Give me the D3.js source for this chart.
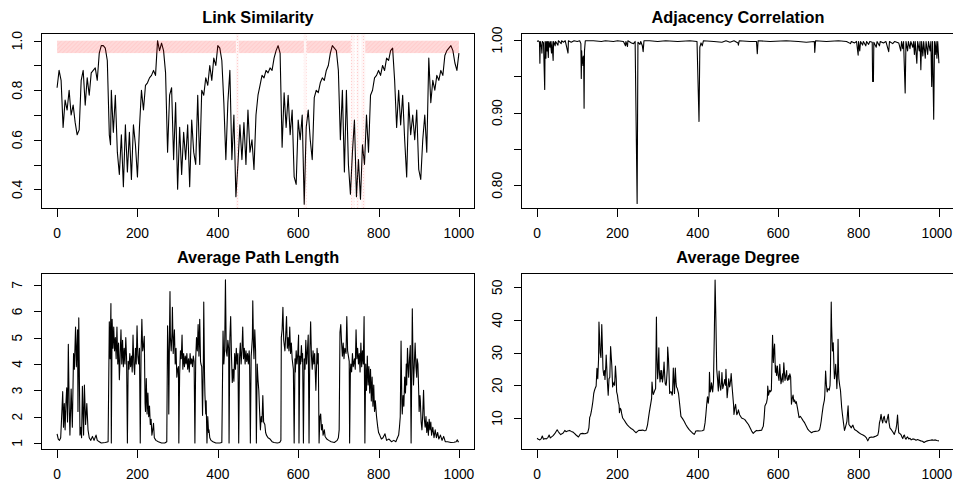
<!DOCTYPE html>
<html>
<head>
<meta charset="utf-8">
<script src="https://cdn.jsdelivr.net/npm/d3@7"></script>
<style>
  html, body { margin: 0; padding: 0; background: #fff; }
  svg { display: block; font-family: "Liberation Sans", Arial, Helvetica, sans-serif; }
</style>
</head>
<body>
<svg id="chart" width="953" height="481"></svg>
<script>
// ---------------- DATA ----------------
const panelTitles = ["Link Similarity", "Adjacency Correlation", "Average Path Length", "Average Degree"];
const xTicks = [0, 200, 400, 600, 800, 1000];

const linkTicks = [0.4, 0.5, 0.6, 0.7, 0.8, 0.9, 1.0];
const linkLabels = [0.4, 0.6, 0.8, 1.0];
const adjTicks = [0.80, 0.85, 0.90, 0.95, 1.00];
const adjLabels = [0.80, 0.90, 1.00];
const pathTicks = [1, 2, 3, 4, 5, 6, 7];
const degTicks = [10, 20, 30, 40, 50];

// high-similarity band (y range) and its x segments; highlighted change columns
const bandRange = [0.95, 1.0];
const bandSegments = [[0, 445], [452, 614], [621, 731], [767, 1000]];
const changeColumns = [[445, 452], [614, 621], [731, 740], [745, 752], [757, 767]];

const linkSimilarity = [
[0,0.81],[5,0.88],[10,0.84],[15,0.65],[20,0.76],[25,0.72],[30,0.80],[35,0.70],[40,0.74],[45,0.67],
[50,0.62],[55,0.64],[60,0.84],[65,0.88],[70,0.74],[75,0.85],[80,0.78],[85,0.87],[90,0.88],[95,0.89],
[100,0.84],[105,0.95],[110,0.98],[115,0.98],[120,0.97],[125,0.92],[130,0.62],[133,0.58],[135,0.80],[140,0.63],
[145,0.78],[150,0.55],[155,0.46],[160,0.62],[165,0.41],[170,0.66],[175,0.47],[180,0.63],[185,0.44],[190,0.66],
[195,0.58],[200,0.45],[205,0.65],[210,0.80],[215,0.72],[220,0.82],[225,0.83],[230,0.85],[235,0.86],[240,0.88],
[245,0.86],[250,1.00],[255,0.96],[260,0.99],[265,0.96],[270,0.87],[275,0.55],[280,0.78],[285,0.81],[290,0.52],
[295,0.75],[300,0.40],[305,0.65],[310,0.46],[315,0.63],[320,0.52],[325,0.66],[330,0.41],[335,0.68],[340,0.55],
[345,0.50],[350,0.78],[355,0.50],[360,0.80],[365,0.78],[370,0.85],[375,0.82],[380,0.90],[385,0.84],[390,0.93],
[395,0.90],[400,0.98],[405,0.97],[410,0.92],[415,0.75],[420,0.52],[425,0.75],[430,0.88],[435,0.52],[440,0.70],
[445,0.37],[450,0.50],[455,0.66],[460,0.52],[465,0.67],[470,0.50],[475,0.72],[480,0.55],[485,0.60],[490,0.48],
[495,0.70],[500,0.78],[505,0.82],[510,0.86],[515,0.85],[520,0.88],[525,0.87],[530,0.89],[535,0.88],[540,0.93],
[545,0.96],[550,0.98],[555,0.95],[560,0.57],[565,0.79],[570,0.65],[575,0.78],[580,0.62],[585,0.72],[590,0.45],
[595,0.42],[600,0.68],[605,0.60],[610,0.70],[615,0.34],[620,0.65],[625,0.72],[630,0.60],[635,0.52],[640,0.77],
[645,0.80],[650,0.79],[655,0.83],[660,0.85],[665,0.84],[670,0.88],[675,0.90],[680,0.95],[685,0.98],[690,0.97],
[695,0.96],[700,0.88],[705,0.60],[710,0.80],[715,0.47],[720,0.80],[725,0.50],[730,0.38],[735,0.55],[740,0.68],
[745,0.37],[750,0.52],[755,0.36],[760,0.58],[765,0.50],[770,0.70],[775,0.55],[780,0.78],[785,0.80],[790,0.85],
[795,0.86],[800,0.88],[805,0.86],[810,0.90],[815,0.88],[820,0.93],[825,0.92],[830,0.96],[835,0.97],[840,0.84],
[845,0.65],[850,0.80],[855,0.66],[860,0.78],[865,0.60],[870,0.45],[875,0.75],[880,0.62],[885,0.70],[890,0.60],
[895,0.72],[900,0.48],[905,0.44],[910,0.60],[915,0.70],[920,0.55],[925,0.93],[930,0.75],[935,0.84],[940,0.80],
[945,0.86],[950,0.84],[955,0.88],[960,0.86],[965,0.94],[970,0.96],[975,0.97],[980,0.98],[985,0.96],[990,0.91],
[995,0.88],[1000,0.95]
];

const adjacencyCorrelation = [
[0,0.998],[3,0.999],[6,0.997],[7,0.968],[8,0.998],[11,0.990],[12,0.982],[13,0.998],[16,0.996],[19,0.932],
[20,0.998],[22,0.975],[23,0.998],[25,0.985],[26,0.998],[28,0.976],[29,0.998],[32,0.990],[33,0.998],[36,0.982],
[37,0.998],[40,0.972],[41,0.998],[45,0.992],[46,0.998],[52,0.993],[53,0.999],[60,0.995],[61,0.999],[66,0.997],
[70,0.999],[77,0.982],[78,0.999],[85,0.997],[92,0.999],[100,0.998],[106,0.999],[109,0.995],[110,0.947],[111,0.985],
[112,0.968],[113,0.975],[114,0.965],[115,0.978],[116,0.970],[117,0.906],[118,0.985],[120,0.999],[140,0.999],[160,0.998],
[170,0.999],[190,0.998],[200,0.999],[215,0.998],[220,0.992],[221,0.998],[225,0.991],[226,0.999],[235,0.996],[240,0.995],
[244,0.998],[249,0.775],[251,0.997],[256,0.994],[258,0.998],[262,0.992],[264,0.984],[266,0.999],[280,0.999],[300,0.998],
[320,0.999],[350,0.998],[380,0.999],[398,0.998],[403,0.888],[405,0.990],[408,0.996],[411,0.992],[414,0.999],[440,0.998],
[460,0.997],[470,0.999],[480,0.997],[490,0.999],[500,0.996],[501,0.993],[503,0.999],[530,0.998],[546,0.998],[548,0.981],
[550,0.999],[580,0.998],[620,0.999],[650,0.998],[670,0.997],[690,0.998],[691,0.983],[693,0.999],[720,0.998],[750,0.999],
[770,0.998],[780,0.995],[782,0.998],[790,0.996],[795,0.998],[799,0.979],[800,0.998],[803,0.985],[805,0.998],[810,0.993],
[812,0.998],[818,0.992],[820,0.998],[825,0.994],[828,0.998],[834,0.997],[835,0.943],[837,0.943],[838,0.997],[844,0.990],
[846,0.998],[852,0.992],[854,0.998],[862,0.996],[868,0.998],[875,0.984],[877,0.998],[885,0.995],[890,0.998],[900,0.996],
[905,0.985],[907,0.998],[910,0.988],[912,0.998],[916,0.927],[918,0.998],[922,0.985],[924,0.998],[928,0.988],[930,0.998],
[935,0.990],[937,0.998],[939,0.980],[941,0.998],[945,0.968],[947,0.998],[951,0.985],[953,0.998],[955,0.959],[957,0.998],
[960,0.978],[962,0.998],[966,0.975],[968,0.998],[972,0.980],[974,0.998],[978,0.985],[980,0.998],[982,0.936],[984,0.998],
[987,0.891],[989,0.998],[991,0.980],[993,0.998],[995,0.975],[997,0.998],[1000,0.968]
];

const avgPathLength = [
[0,1.35],[3,1.15],[6,1.1],[9,1.2],[12,2.2],[14,2.95],[16,1.6],[18,2.5],[20,1.5],[22,2.5],[24,3.1],[26,1.8],[28,4.75],
[30,2.5],[32,1.3],[35,3.05],[38,1.6],[41,4.4],[43,3.8],[46,5.4],[48,3.9],[51,5.3],[52,2.2],[54,5.75],[57,1.3],[59,1.6],
[61,1.2],[63,3.15],[66,1.3],[68,3.2],[71,1.7],[74,2.5],[77,1.5],[80,1.2],[84,1.1],[88,1.25],[92,1.1],[97,1.3],[100,1.1],
[105,1.05],[110,1.0],[120,1.02],[127,1.05],[130,5.6],[132,4.2],[134,6.3],[135,1.0],[137,5.7],[139,4.6],[141,5.4],[143,4.5],
[145,5.0],[147,4.2],[149,5.4],[151,4.0],[153,4.8],[155,3.4],[157,4.3],[159,5.3],[161,4.0],[163,4.9],[165,3.9],[167,4.6],
[169,4.0],[171,5.0],[173,4.2],[175,1.0],[177,4.1],[179,3.8],[181,4.4],[183,3.9],[185,4.3],[187,3.7],[189,5.1],[191,4.0],
[193,3.6],[195,4.6],[197,4.0],[199,5.45],[201,4.3],[203,4.0],[205,4.6],[207,1.0],[209,4.4],[211,5.7],[213,4.5],[215,4.7],
[217,5.05],[219,2.5],[220,2.2],[222,3.45],[224,2.1],[226,2.9],[228,2.0],[230,2.4],[232,1.7],[234,1.9],[236,1.3],[238,1.5],
[240,1.75],[242,1.2],[246,1.1],[252,1.05],[260,1.0],[268,1.0],[273,1.05],[275,5.45],[277,4.3],[278,2.1],[280,5.5],[281,6.75],
[282,5.0],[284,4.5],[286,5.2],[287,6.15],[289,4.4],[291,5.0],[292,5.3],[294,4.0],[296,4.6],[298,3.5],[300,3.8],[302,3.9],
[303,1.0],[305,3.6],[307,4.5],[309,4.2],[311,5.1],[313,3.8],[315,4.4],[317,3.9],[319,4.3],[321,4.0],[323,4.4],[325,3.8],
[327,4.2],[329,3.7],[331,4.4],[333,4.0],[335,4.2],[337,3.9],[339,4.3],[341,4.1],[343,1.0],[345,4.2],[347,5.0],[349,4.5],
[351,5.5],[353,4.3],[355,5.7],[357,4.1],[358,4.0],[360,3.9],[362,2.05],[364,4.0],[365,6.35],[367,3.5],[368,2.8],[370,2.1],
[371,2.6],[373,1.0],[375,2.0],[377,1.4],[378,1.5],[380,1.2],[383,1.1],[388,1.05],[395,1.0],[405,1.0],[410,1.02],[413,5.25],
[415,4.0],[417,4.5],[419,7.2],[421,4.5],[423,4.3],[425,4.9],[427,4.6],[428,1.0],[430,5.0],[432,5.8],[434,4.3],[436,3.3],
[438,3.8],[440,3.35],[442,4.4],[444,3.8],[446,4.6],[448,4.0],[450,4.4],[452,1.0],[454,4.2],[456,4.8],[458,4.0],[460,4.5],
[462,5.4],[464,4.2],[466,4.6],[468,4.0],[470,4.5],[472,4.1],[474,4.4],[476,4.0],[478,4.5],[479,4.2],[481,1.0],[483,4.3],
[484,4.5],[486,5.0],[487,6.4],[489,4.6],[490,4.2],[492,5.3],[494,4.5],[496,1.0],[498,4.0],[500,3.4],[502,3.0],[504,2.2],
[506,1.5],[508,2.0],[510,1.8],[512,2.8],[514,1.8],[517,1.7],[519,1.4],[521,1.3],[525,1.2],[530,1.15],[535,1.05],[540,1.02],
[548,1.0],[554,1.02],[557,1.1],[558,5.0],[560,5.3],[562,6.15],[564,4.9],[567,4.5],[569,5.1],[571,5.8],[573,4.6],[575,5.0],
[577,4.5],[579,5.4],[581,4.4],[583,4.8],[585,4.2],[588,3.8],[590,1.0],[592,4.2],[593,3.7],[595,4.5],[597,4.0],[599,4.4],
[601,5.1],[602,1.0],[604,4.3],[606,4.0],[608,4.7],[610,4.1],[611,4.4],[613,1.0],[615,4.2],[617,3.8],[619,4.9],[621,4.0],
[623,4.5],[625,5.1],[627,1.0],[629,4.5],[631,5.6],[633,4.3],[635,3.8],[637,4.5],[639,4.0],[641,4.4],[644,3.0],[647,4.6],
[649,4.0],[650,4.4],[652,1.0],[654,2.0],[656,2.1],[658,1.5],[660,1.7],[662,1.3],[665,1.5],[667,1.25],[671,1.15],[676,1.1],
[682,1.05],[690,1.02],[697,1.1],[700,1.2],[702,1.5],[704,5.2],[706,5.5],[708,4.8],[710,4.3],[712,4.8],[714,4.2],[716,4.6],
[719,4.4],[721,5.8],[723,4.5],[725,4.3],[727,4.1],[728,1.0],[730,3.8],[731,4.0],[733,3.7],[735,4.4],[737,3.9],[740,4.2],
[742,3.8],[744,5.3],[746,4.2],[748,4.6],[750,4.0],[752,4.4],[754,3.7],[756,4.8],[758,3.9],[760,4.5],[762,4.0],[764,5.8],
[766,1.0],[768,4.0],[770,3.0],[772,4.3],[774,3.2],[776,3.9],[778,2.9],[780,3.8],[782,2.6],[784,3.5],[786,2.4],[788,3.2],
[790,2.2],[792,2.6],[795,2.0],[798,1.6],[800,1.4],[803,1.3],[807,1.15],[811,1.2],[816,1.35],[820,1.1],[826,1.15],[832,1.05],
[838,1.1],[843,1.05],[847,1.2],[850,1.3],[852,1.6],[854,2.0],[856,4.87],[858,2.5],[859,2.1],[861,2.8],[863,2.4],[865,3.5],
[867,2.9],[869,4.0],[870,3.2],[872,4.6],[874,3.8],[875,3.5],[877,4.2],[879,4.7],[881,1.0],[884,6.1],[886,3.8],[887,3.2],
[889,4.0],[891,4.8],[893,3.9],[895,3.5],[896,4.2],[898,4.0],[900,2.9],[901,2.2],[903,2.8],[904,2.6],[906,1.8],[908,1.5],
[910,2.1],[912,3.0],[914,1.9],[916,1.6],[918,2.0],[920,1.4],[922,1.8],[924,1.3],[926,1.9],[928,1.5],[930,1.8],[932,1.3],
[935,1.6],[938,1.2],[941,1.5],[944,1.2],[947,1.4],[950,1.15],[954,1.3],[958,1.1],[962,1.25],[966,1.05],[972,1.05],[980,1.02],
[988,1.03],[993,1.05],[996,1.12],[998,1.05],[1000,1.05]
];

const avgDegree = [
[0,3.8],[3,3.5],[7,3.3],[10,3.6],[13,4.5],[16,3.5],[20,3.7],[23,3.6],[27,4.0],[30,4.8],[33,3.9],[37,4.3],[40,4.6],[44,5.2],
[47,5.8],[50,6.4],[53,5.8],[56,5.3],[59,4.9],[62,5.2],[65,5.4],[69,6.2],[72,5.8],[76,6.0],[81,6.2],[85,5.9],[89,5.7],[93,5.3],
[97,4.8],[100,4.5],[103,4.2],[106,4.8],[108,5.2],[113,5.3],[118,5.2],[122,5.3],[126,5.5],[129,7],[131,10.2],[133,10.8],[135,12],
[137,13.5],[139,15.2],[141,17.5],[143,18.5],[145,19.2],[147,19.8],[149,25.2],[151,22],[153,28],[154,39.4],[156,33],[157,30],
[159,28.5],[161,38.6],[163,30],[164,25],[166,23],[168,24.5],[169,21.8],[171,26],[172,29.3],[174,24],[175,21],[177,17],[179,22],
[181,22.5],[183,31.9],[185,28],[186,26],[188,19.5],[190,20.5],[192,21],[193,20],[195,25.9],[197,22],[198,18],[200,17],[202,15],
[204,14],[205,11.6],[207,13],[209,12.5],[211,11],[213,10],[217,9.3],[221,8.5],[225,7.8],[230,7.2],[234,6.8],[238,6.5],[242,6.0],
[246,5.5],[250,5.9],[253,6.2],[258,6.2],[263,6.3],[267,6.1],[271,6.2],[273,7],[275,8],[277,9.8],[279,11.5],[281,13],[283,14.5],
[285,16],[286,21],[288,18],[289,17.2],[291,17.8],[293,18.5],[295,19],[297,40.9],[298,30],[300,22],[301,24],[303,31.5],[304,25],
[306,21],[308,24.5],[309,22],[310,24.5],[312,21],[314,23],[316,27.1],[318,22],[319,20.5],[321,20],[322,21],[324,25],[325,31.7],
[327,28],[328,25],[330,17.5],[332,18],[334,18],[336,17],[337,17.5],[339,25.3],[341,20],[342,17.5],[344,25.3],[346,20.5],[347,19.5],
[349,19],[352,17.5],[355,14],[358,10.5],[362,9.8],[366,9],[370,8],[374,7.2],[378,6.5],[382,6.0],[386,5.5],[391,5.0],[393,5.4],
[395,6.0],[400,6.1],[405,6.0],[411,6.1],[415,6.3],[418,8.5],[420,11],[422,14],[424,16.5],[425,15.5],[426,14.5],[428,17],[429,24],
[431,18],[433,19],[434,20.8],[436,19],[437,18],[439,21],[441,35],[443,52.2],[445,40],[447,25],[449,22],[451,18.3],[453,24.4],
[455,20],[457,18.5],[459,21],[460,23.9],[462,19],[464,20],[466,21],[467,21.8],[469,20],[470,24.9],[472,19],[473,16.2],[475,19],
[477,22],[479,19.5],[480,20],[482,22],[483,23.6],[485,20],[487,17],[489,14],[490,11.1],[492,13],[494,14.2],[496,12],[497,11],
[499,11.5],[501,12.5],[504,11],[509,10],[513,9.8],[517,9.5],[521,8.8],[526,8],[530,7],[534,6],[538,5.3],[542,5.8],[546,6.2],
[550,6.1],[555,6.2],[559,6.3],[561,7],[563,7.5],[565,10],[567,13.7],[569,14.2],[571,14.7],[573,16],[574,19.8],[576,17],[578,18],
[579,18.5],[581,18],[583,18.5],[584,24],[586,35.3],[588,27],[589,30],[591,32.6],[593,24],[594,26],[596,23],[598,25.9],[600,23],
[602,21.5],[604,26.4],[606,22],[607,20.5],[609,22],[611,23.5],[612,21],[614,26.9],[616,23],[617,21.5],[619,23],[621,24.5],[622,22],
[624,21.5],[626,23],[627,21.8],[629,23.5],[631,22.5],[633,14.2],[635,16],[637,17],[639,15],[641,15.5],[643,14.5],[645,15],[648,13],
[652,10.1],[655,10.5],[658,10],[662,9.2],[666,8.5],[670,7.5],[674,6.5],[678,6.0],[683,5.5],[687,5.8],[692,5.9],[699,6.0],[703,6.4],
[705,7.5],[707,9],[709,11],[712,13.7],[715,15.5],[716,17],[718,24.4],[720,20],[722,18],[724,19],[725,18.8],[727,18.5],[729,20],
[730,24],[732,45.5],[733,38],[735,30.5],[737,33],[739,25],[740,22],[742,24],[743,26.4],[745,22],[746,19],[748,25],[749,34.1],
[750,26],[751,22],[753,20],[755,18.5],[757,15],[758,13.2],[760,11],[761,10],[763,8],[765,6.2],[767,7],[769,8],[771,9],[774,13.7],
[776,8],[779,7.5],[782,7],[784,7.5],[786,7.8],[788,7],[790,6.5],[794,6.2],[798,5.8],[802,5.4],[807,5.0],[811,4.8],[815,4.5],
[819,4.0],[823,3.0],[827,4.0],[832,4.2],[836,4.1],[840,4.3],[844,4.5],[848,4.8],[850,6],[852,8.5],[854,9.5],[856,11.1],[858,9.5],
[860,8.5],[862,10],[864,10.5],[866,9],[869,8.5],[871,9.5],[874,11.1],[876,8.5],[878,7],[881,6.5],[885,5.8],[889,5],[891,5.8],
[893,6.5],[895,8],[897,10.9],[899,7],[900,5.5],[903,5.2],[906,4.8],[908,4.2],[910,3.7],[912,4.5],[914,4.8],[916,3.9],[918,3.5],
[920,4.0],[922,4.2],[925,3.6],[928,3.8],[931,3.3],[935,3.6],[939,3.5],[943,3.2],[947,3.4],[951,3.2],[955,3.0],[959,2.9],[963,2.5],
[967,2.8],[971,3.0],[975,3.1],[979,3.2],[983,3.3],[987,3.2],[991,3.3],[995,3.1],[1000,3.0]
];

// ---------------- LAYOUT ----------------
const W = 953;
const svg = d3.select("#chart");
const TICK_FS = 13.8, TITLE_FS = 16.3, TICK_LEN = 8;

const panels = [
  { title: panelTitles[0], data: linkSimilarity, box: [41, 475, 33.3, 209.3], yCal: [[0.4, 189.3], [1.0, 40.7]],
    yTicks: linkTicks, yLabels: linkLabels, fmt: d3.format(".1f"), band: true },
  { title: panelTitles[1], data: adjacencyCorrelation, box: [521, 955, 33.3, 209.3], yCal: [[0.80, 185.3], [1.00, 40]],
    yTicks: adjTicks, yLabels: adjLabels, fmt: d3.format(".2f") },
  { title: panelTitles[2], data: avgPathLength, box: [41, 475, 273.3, 449.6], yCal: [[1, 443], [7, 285]],
    yTicks: pathTicks, yLabels: pathTicks, fmt: d3.format("d") },
  { title: panelTitles[3], data: avgDegree, box: [521, 955, 273.3, 449.6], yCal: [[10, 418], [50, 287.3]],
    yTicks: degTicks, yLabels: degTicks, fmt: d3.format("d") }
];

const defs = svg.append("defs");
const pat = defs.append("pattern").attr("id", "hatch").attr("patternUnits", "userSpaceOnUse")
  .attr("width", 3).attr("height", 3).attr("patternTransform", "rotate(45)");
pat.append("rect").attr("width", 3).attr("height", 3).attr("fill", "rgba(255,0,0,0.15)");
pat.append("line").attr("x1", 0).attr("y1", 0).attr("x2", 0).attr("y2", 3)
  .attr("stroke", "rgba(255,0,0,0.09)").attr("stroke-width", 1.2);

const colPat = defs.append("pattern").attr("id", "dots").attr("patternUnits", "userSpaceOnUse")
  .attr("width", 3).attr("height", 3);
colPat.append("rect").attr("width", 3).attr("height", 3).attr("fill", "rgba(255,0,0,0.04)");
colPat.append("rect").attr("width", 1).attr("height", 1).attr("fill", "rgba(255,60,60,0.22)");

panels.forEach((p, i) => {
  const [bx0, bx1, by0, by1] = p.box;
  const x = d3.scaleLinear().domain([-40, 1040]).range([bx0, bx1]);
  const y = d3.scaleLinear().domain([p.yCal[0][0], p.yCal[1][0]]).range([p.yCal[0][1], p.yCal[1][1]]);
  const g = svg.append("g");

  defs.append("clipPath").attr("id", "clip" + i).append("rect")
    .attr("x", bx0).attr("y", by0).attr("width", bx1 - bx0).attr("height", by1 - by0);

  const line = d3.line().x(d => x(d[0])).y(d => y(d[1]));
  g.append("path").datum(p.data).attr("d", line)
    .attr("clip-path", `url(#clip${i})`)
    .attr("fill", "none").attr("stroke", "#000").attr("stroke-width", 1.1)
    .attr("stroke-linejoin", "round");

  if (p.band) {
    const bg = g.append("g").attr("clip-path", `url(#clip${i})`);
    bg.selectAll("rect.band").data(bandSegments).join("rect").attr("class", "band")
      .attr("x", d => x(d[0])).attr("width", d => x(d[1]) - x(d[0]))
      .attr("y", y(bandRange[1])).attr("height", y(bandRange[0]) - y(bandRange[1]))
      .attr("fill", "url(#hatch)");
    bg.selectAll("rect.col").data(changeColumns).join("rect").attr("class", "col")
      .attr("x", d => x(d[0])).attr("width", d => x(d[1]) - x(d[0]))
      .attr("y", by0).attr("height", by1 - by0)
      .attr("fill", "url(#dots)");
  }

  // box
  g.append("rect").attr("x", bx0 + 0.5).attr("y", by0 + 0.5)
    .attr("width", bx1 - bx0 - 1).attr("height", by1 - by0 - 1)
    .attr("fill", "none").attr("stroke", "#000").attr("stroke-width", 1)
    .attr("shape-rendering", "crispEdges");

  // x ticks
  const xb = Math.round(by1) - 0.5;
  g.selectAll("line.xt").data(xTicks).join("line")
    .attr("x1", d => Math.round(x(d)) + 0.5).attr("x2", d => Math.round(x(d)) + 0.5)
    .attr("y1", xb).attr("y2", xb + TICK_LEN)
    .attr("stroke", "#000").attr("shape-rendering", "crispEdges");
  g.selectAll("text.xl").data(xTicks).join("text")
    .attr("x", d => x(d)).attr("y", by1 + 29).attr("text-anchor", "middle")
    .attr("font-size", TICK_FS).attr("fill", "#000").text(d => d)
    .each(function () {
      const bb = this.getBBox();
      const over = bb.x + bb.width - (W - 0.5);
      if (over > 0) d3.select(this).attr("x", +d3.select(this).attr("x") - over);
    });

  // y ticks
  const yl = Math.round(bx0) + 0.5;
  g.selectAll("line.yt").data(p.yTicks).join("line")
    .attr("x1", yl - TICK_LEN).attr("x2", yl)
    .attr("y1", d => Math.round(y(d)) + 0.5).attr("y2", d => Math.round(y(d)) + 0.5)
    .attr("stroke", "#000").attr("shape-rendering", "crispEdges");
  g.selectAll("text.yl").data(p.yLabels).join("text")
    .attr("transform", d => `translate(${bx0 - 19.3},${y(d)}) rotate(-90)`)
    .attr("text-anchor", "middle").attr("font-size", TICK_FS).attr("fill", "#000")
    .text(d => p.fmt(d));

  // title
  g.append("text").attr("x", (bx0 + bx1) / 2).attr("y", by0 - 10.3)
    .attr("text-anchor", "middle").attr("font-size", TITLE_FS).attr("font-weight", "bold")
    .attr("fill", "#000").text(p.title);
});
</script>
</body>
</html>
